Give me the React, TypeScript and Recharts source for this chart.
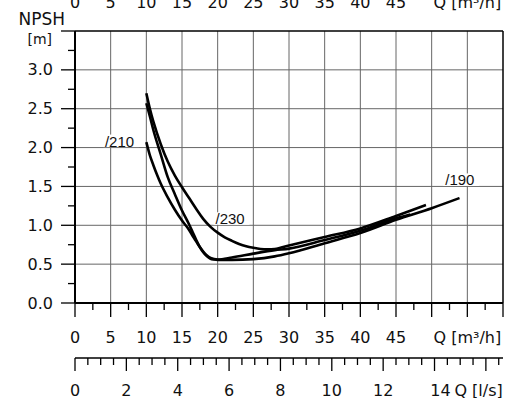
import React from "react";
import { LineChart, Line, XAxis, YAxis, ReferenceLine, ReferenceDot } from "recharts";

// flow axis (m³/h)
const Q_MAJOR = [0, 5, 10, 15, 20, 25, 30, 35, 40, 45, 50, 55, 60];
const Q_TICK_LABELS = ["0", "5", "10", "15", "20", "25", "30", "35", "40", "45", "", "Q [m³/h]", ""];
// flow axis (l/s)
const LS_MAJOR = [0, 2, 4, 6, 8, 10, 12, 14, 16];
const LS_TICK_LABELS = ["0", "2", "4", "6", "8", "10", "12", "14", ""];
const LS_UNIT = "Q [l/s]";
// NPSH axis (m)
const NPSH_MAJOR = [0, 0.5, 1, 1.5, 2, 2.5, 3, 3.5];
const NPSH_TICK_LABELS = ["0.0", "0.5", "1.0", "1.5", "2.0", "2.5", "3.0", ""];

// impeller /190
const Q_190 = [10, 10.5, 11, 12, 13, 14, 15, 16, 16.5, 17, 17.5, 18, 18.5, 19, 19.5, 20, 22, 25, 28, 30, 35, 40, 45, 50, 53.9];
const NPSH_190 = [2.57, 2.4, 2.22, 1.92, 1.62, 1.4, 1.19, 1.01, 0.91, 0.81, 0.72, 0.65, 0.6, 0.57, 0.56, 0.555, 0.555, 0.565, 0.6, 0.64, 0.77, 0.9, 1.07, 1.22, 1.35];
// impeller /210
const Q_210 = [10, 10.5, 11, 11.5, 12, 13, 14, 15, 16, 16.5, 17, 17.5, 18, 18.5, 19, 19.5, 20, 22, 25, 28, 30, 35, 40, 45, 47];
const NPSH_210 = [2.07, 1.9, 1.77, 1.65, 1.54, 1.36, 1.2, 1.06, 0.94, 0.86, 0.79, 0.72, 0.66, 0.61, 0.58, 0.565, 0.56, 0.585, 0.635, 0.68, 0.7, 0.81, 0.93, 1.09, 1.14];
// impeller /230
const Q_230 = [10, 10.5, 11, 12, 13, 14, 15, 16, 17, 18, 19, 20, 21, 22, 23, 24, 25, 26, 27, 28, 30, 35, 40, 45, 49.2];
const NPSH_230 = [2.7, 2.5, 2.33, 2.05, 1.82, 1.64, 1.49, 1.35, 1.21, 1.08, 0.98, 0.905, 0.845, 0.8, 0.76, 0.73, 0.71, 0.695, 0.69, 0.695, 0.74, 0.85, 0.96, 1.12, 1.26];

const CURVE_LABELS = [
  { name: "/210", q: 4.2, v: 2.0 },
  { name: "/230", q: 19.7, v: 1.0 },
  { name: "/190", q: 51.9, v: 1.5 },
];

const toSeries = (qs: number[], vs: number[]) => qs.map((q, i) => ({ q, v: vs[i] }));
const series = [toSeries(Q_190, NPSH_190), toSeries(Q_210, NPSH_210), toSeries(Q_230, NPSH_230)];

const Q_TICKS = Array.from({ length: 25 }, (_, i) => i * 2.5);
const LS_TICKS = Array.from({ length: 34 }, (_, i) => i * 0.5);
const NPSH_TICKS = Array.from({ length: 15 }, (_, i) => i * 0.25);

const AXIS_FONT = "'DejaVu Sans', sans-serif";
const INK = "#111";

const QBottomTick = ({ x, y, payload }: any) => {
  const i = Q_MAJOR.indexOf(payload.value);
  return (
    <g>
      <line x1={x} x2={x} y1={y} y2={y + (i >= 0 ? 14 : 7)} stroke="#000" strokeWidth={1.3} />
      {i >= 0 && Q_TICK_LABELS[i] && (
        <text x={x} y={y + 34} textAnchor="middle" dominantBaseline="central" fontSize={16} fontFamily={AXIS_FONT} fill={INK}>
          {Q_TICK_LABELS[i]}
        </text>
      )}
    </g>
  );
};

const QTopTick = ({ x, y, payload }: any) => {
  const i = Q_MAJOR.indexOf(payload.value);
  if (i < 0 || !Q_TICK_LABELS[i]) return <g />;
  return (
    <text x={x} y={y - 29} textAnchor="middle" dominantBaseline="central" fontSize={16} fontFamily={AXIS_FONT} fill={INK}>
      {Q_TICK_LABELS[i]}
    </text>
  );
};

const LsTick = ({ x, y, payload }: any) => {
  const v = payload.value;
  const i = LS_MAJOR.indexOf(v);
  return (
    <g>
      <line x1={x} x2={x} y1={y} y2={y + (i >= 0 ? 13 : 7)} stroke="#000" strokeWidth={1.3} />
      {i >= 0 && LS_TICK_LABELS[i] && (
        <text x={v === 14 ? x + 6 : x} y={y + 32} textAnchor="middle" dominantBaseline="central" fontSize={16} fontFamily={AXIS_FONT} fill={INK}>
          {LS_TICK_LABELS[i]}
        </text>
      )}
      {v === 16.5 && (
        <text x={x + 4} y={y + 32} textAnchor="end" dominantBaseline="central" fontSize={16} fontFamily={AXIS_FONT} fill={INK}>
          {LS_UNIT}
        </text>
      )}
    </g>
  );
};

const NpshTick = ({ x, y, payload }: any) => {
  const v = payload.value;
  const i = NPSH_MAJOR.indexOf(v);
  return (
    <g>
      <line x1={x - (i >= 0 ? 14 : 7)} x2={x} y1={y} y2={y} stroke="#000" strokeWidth={1.3} />
      {i >= 0 && NPSH_TICK_LABELS[i] && (
        <text x={x - 22} y={y} textAnchor="end" dominantBaseline="central" fontSize={16} fontFamily={AXIS_FONT} fill={INK}>
          {NPSH_TICK_LABELS[i]}
        </text>
      )}
      {v === 3.5 && (
        <>
          <text x={x - 23} y={y + 7.5} textAnchor="end" dominantBaseline="central" fontSize={14} fontFamily={AXIS_FONT} fill={INK}>
            [m]
          </text>
          <text x={x - 10} y={y - 12} textAnchor="end" dominantBaseline="central" fontSize={17} fontFamily={AXIS_FONT} fill={INK}>
            NPSH
          </text>
        </>
      )}
    </g>
  );
};

const CurveLabel = (name: string) => (props: any) => {
  const { cx, cy } = props;
  return (
    <g>
      <rect x={cx - 2} y={cy - 13} width={36} height={12.5} fill="#fff" />
      <text x={cx} y={cy - 1} fontSize={15} fontFamily="'Liberation Sans', Arial, sans-serif" fill={INK}>
        {name}
      </text>
    </g>
  );
};

export default function App() {
  return (
    <div style={{ position: "absolute", left: 0, top: 0, background: "#fff" }}>
      <LineChart width={510} height={398} margin={{ top: 0, right: 7, bottom: 0, left: 0 }}>
        <XAxis
          xAxisId="q1"
          dataKey="q"
          type="number"
          domain={[0, 60]}
          allowDataOverflow
          ticks={Q_TICKS}
          interval={0}
          height={55}
          tickSize={0}
          tickMargin={0}
          tickLine={false}
          axisLine={{ stroke: "#000", strokeWidth: 2 }}
          tick={<QBottomTick />}
        />
        <XAxis
          xAxisId="q2"
          dataKey="q"
          type="number"
          domain={[0, 60 / 3.6]}
          allowDataOverflow
          ticks={LS_TICKS}
          interval={0}
          height={40}
          tickSize={0}
          tickMargin={0}
          tickLine={false}
          axisLine={{ stroke: "#000", strokeWidth: 1.5 }}
          tick={<LsTick />}
        />
        <XAxis
          xAxisId="q3"
          dataKey="q"
          orientation="top"
          type="number"
          domain={[0, 60]}
          allowDataOverflow
          ticks={Q_MAJOR}
          interval={0}
          height={31}
          tickSize={0}
          tickMargin={0}
          tickLine={false}
          axisLine={{ stroke: "#000", strokeWidth: 1.5 }}
          tick={<QTopTick />}
        />
        <YAxis
          yAxisId="n"
          type="number"
          domain={[0, 3.5]}
          allowDataOverflow
          ticks={NPSH_TICKS}
          interval={0}
          width={75}
          tickSize={0}
          tickMargin={0}
          tickLine={false}
          axisLine={{ stroke: "#000", strokeWidth: 2 }}
          tick={<NpshTick />}
        />

        {Q_MAJOR.slice(1, -1).map((q) => (
          <ReferenceLine key={`gx${q}`} xAxisId="q1" yAxisId="n" x={q} stroke="#666" strokeWidth={1} />
        ))}
        {NPSH_MAJOR.slice(1, -1).map((v) => (
          <ReferenceLine key={`gy${v}`} xAxisId="q1" yAxisId="n" y={v} stroke="#666" strokeWidth={1} />
        ))}
        <ReferenceLine xAxisId="q1" yAxisId="n" x={60} stroke="#000" strokeWidth={1.5} />

        {CURVE_LABELS.map((l) => (
          <ReferenceDot key={l.name} xAxisId="q1" yAxisId="n" x={l.q} y={l.v} r={0} shape={CurveLabel(l.name)} />
        ))}

        {series.map((data, i) => (
          <Line
            key={i}
            xAxisId="q1"
            yAxisId="n"
            data={data}
            dataKey="v"
            type="monotone"
            stroke="#000"
            strokeWidth={2.6}
            dot={false}
            isAnimationActive={false}
          />
        ))}
        {/* unstroked helpers so the secondary axes get their ticks */}
        <Line xAxisId="q2" yAxisId="n" data={series[0]} dataKey="v" stroke="none" dot={false} activeDot={false} isAnimationActive={false} />
        <Line xAxisId="q3" yAxisId="n" data={series[0]} dataKey="v" stroke="none" dot={false} activeDot={false} isAnimationActive={false} />
      </LineChart>
    </div>
  );
}
